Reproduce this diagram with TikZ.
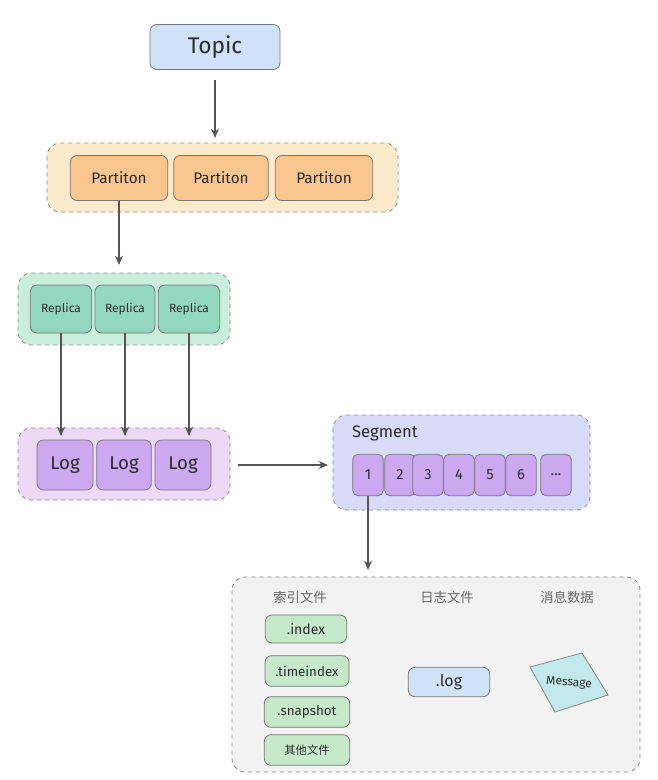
\documentclass[tikz,border=0pt]{standalone}
\usepackage{fontspec}
\setmainfont{Fira Sans}
\newfontfamily\cjk{Noto Sans CJK SC}
\usetikzlibrary{arrows.meta,positioning}
\definecolor{edge}{HTML}{555555}
\definecolor{topicfill}{HTML}{CFE2F7}
\definecolor{partbg}{HTML}{FCEBCB}
\definecolor{partfill}{HTML}{F8C68E}
\definecolor{repbg}{HTML}{C9EEDD}
\definecolor{repfill}{HTML}{92D8C1}
\definecolor{logbg}{HTML}{EDD8F6}
\definecolor{logfill}{HTML}{CBA8EF}
\definecolor{segbg}{HTML}{D7DBF8}
\definecolor{filebg}{HTML}{F2F2F3}
\definecolor{greenfill}{HTML}{C6E9CA}
\definecolor{msgfill}{HTML}{C3E9EC}
\definecolor{txt}{HTML}{2B2B2B}
\tikzset{
  px/.style={x=0.75pt,y=-0.75pt},
  group/.style={draw=edge!70,dashed,rounded corners=10pt,line width=0.6pt},
  item/.style={draw=edge!80,rounded corners=5pt,line width=0.6pt,text=txt},
  conn/.style={draw=edge,line width=1pt,-{Stealth[length=7pt,width=6pt]}},
  lab/.style={text=edge!90,font=\cjk\fontsize{10}{12}\selectfont}
}
\begin{document}
\begin{tikzpicture}[px]
\useasboundingbox (0,0) rectangle (657,780);
% Topic
\node[item,fill=topicfill,minimum width=97.5pt,minimum height=33.75pt,font=\fontsize{17}{20}\selectfont] (topic) at (215,47) {Topic};
% Partition group
\draw[group,fill=partbg] (47,143) rectangle (398,212);
\node[item,fill=partfill,minimum width=73pt,minimum height=33.75pt,font=\fontsize{11.5}{14}\selectfont] (p1) at (119,178) {Partiton};
\node[item,fill=partfill,minimum width=71pt,minimum height=33.75pt,font=\fontsize{11.5}{14}\selectfont] (p2) at (221,178) {Partiton};
\node[item,fill=partfill,minimum width=73pt,minimum height=33.75pt,font=\fontsize{11.5}{14}\selectfont] (p3) at (324,178) {Partiton};
% Replica group
\draw[group,fill=repbg] (18,273) rectangle (230,345);
\node[item,fill=repfill,minimum width=46pt,minimum height=36pt,font=\fontsize{9}{11}\selectfont] (r1) at (61,309) {Replica};
\node[item,fill=repfill,minimum width=45pt,minimum height=36pt,font=\fontsize{9}{11}\selectfont] (r2) at (125,309) {Replica};
\node[item,fill=repfill,minimum width=46pt,minimum height=36pt,font=\fontsize{9}{11}\selectfont] (r3) at (189,309) {Replica};
% Log group
\draw[group,fill=logbg] (18,428) rectangle (230,500);
\node[item,fill=logfill,minimum width=42pt,minimum height=37.5pt,font=\fontsize{14}{17}\selectfont] (l1) at (65,465) {Log};
\node[item,fill=logfill,minimum width=41pt,minimum height=37.5pt,font=\fontsize{14}{17}\selectfont] (l2) at (124,465) {Log};
\node[item,fill=logfill,minimum width=42pt,minimum height=37.5pt,font=\fontsize{14}{17}\selectfont] (l3) at (183,465) {Log};
% Segment group
\draw[group,fill=segbg] (333,415) rectangle (590,510);
\node[text=txt,font=\fontsize{12.5}{15}\selectfont] (seglab) at (385,433) {Segment};
\foreach \n/\x/\t in {s1/368/1,s2/400/2,s3/428/3,s4/459/4,s5/490/5,s6/521/6,s7/556/{...}}{
  \node[item,fill=logfill,minimum width=23pt,minimum height=31pt,rounded corners=4pt,font=\fontsize{11}{13}\selectfont] (\n) at (\x,475) {\t};
}
% Files group
\draw[group,fill=filebg] (232,577) rectangle (640,772);
\node[lab] (h1) at (300,597) {索引文件};
\node[lab] (h2) at (447,597) {日志文件};
\node[lab] (h3) at (567,597) {消息数据};
\node[item,fill=greenfill,minimum width=61pt,minimum height=21pt,font=\fontsize{10.5}{12}\selectfont] (f1) at (306,629) {.index};
\node[item,fill=greenfill,minimum width=63pt,minimum height=23pt,font=\fontsize{10}{12}\selectfont] (f2) at (307,671) {.timeindex};
\node[item,fill=greenfill,minimum width=64pt,minimum height=23pt,font=\fontsize{10}{12}\selectfont] (f3) at (307,712) {.snapshot};
\node[item,fill=greenfill,minimum width=64pt,minimum height=23pt,font=\cjk\fontsize{8.5}{10}\selectfont] (f4) at (307,750) {其他文件};
\node[item,fill=topicfill,minimum width=61pt,minimum height=22pt,font=\fontsize{12}{14}\selectfont] (logf) at (449,682) {.log};
\draw[draw=edge!70,line width=0.6pt,fill=msgfill] (530,667) -- (582,653) -- (608,695) -- (555,712) -- cycle;
\node[text=txt,rotate=-4,font=\fontsize{9}{11}\selectfont] (msg) at (569,683) {Message};
% connectors
\draw[conn] (topic.south |- 0,80) -- (215,138);
\draw[conn] (p1.south) -- (p1.south |- 0,265);
\draw[conn] (r1.south) -- (r1.south |- 0,436);
\draw[conn] (r2.south) -- (r2.south |- 0,436);
\draw[conn] (r3.south) -- (r3.south |- 0,436);
\draw[conn] (238,465) -- (328,465);
\draw[conn] (s1.south) -- (s1.south |- 0,570);
\end{tikzpicture}
\end{document}
